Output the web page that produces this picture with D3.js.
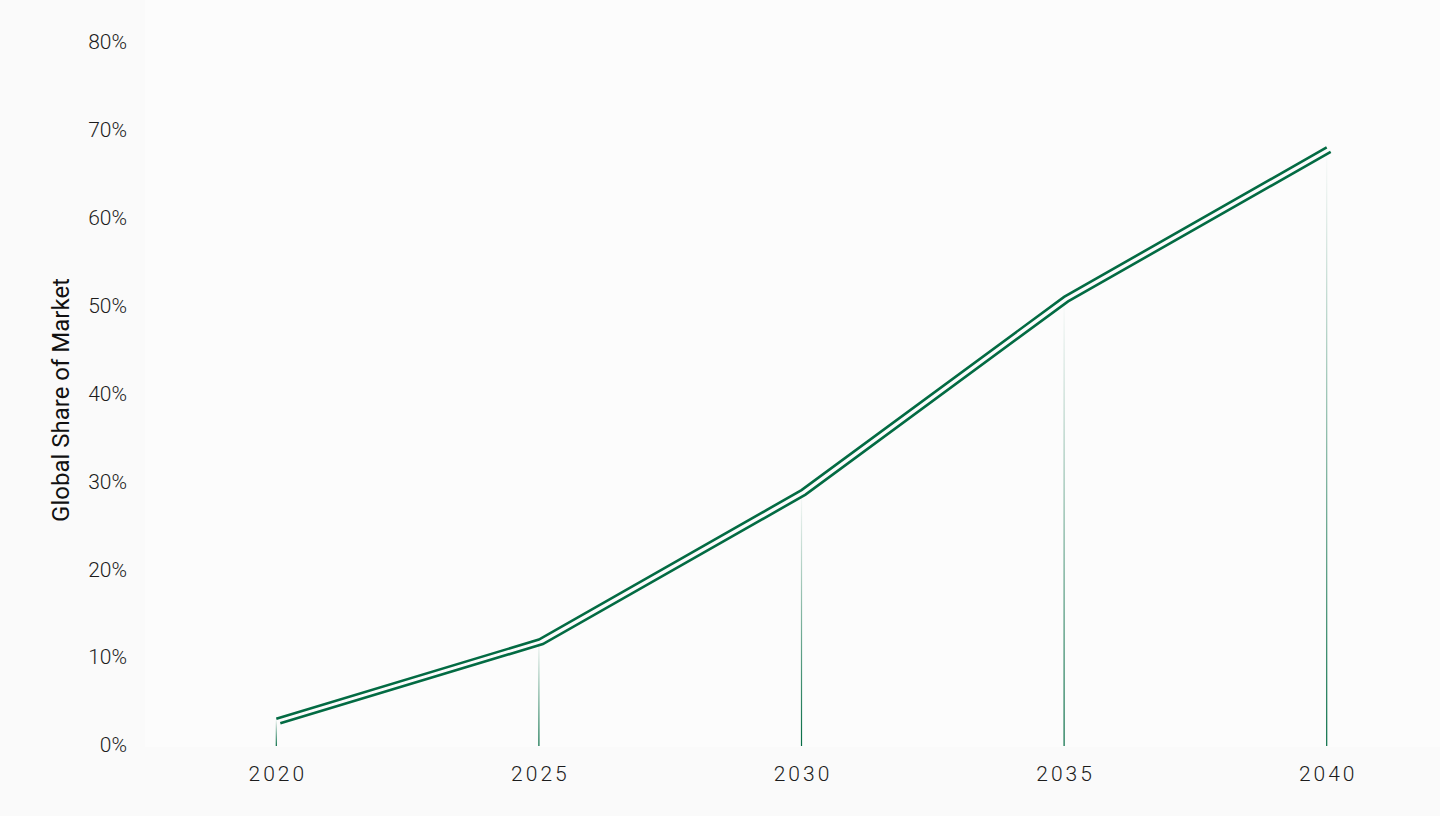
<!DOCTYPE html>
<html>
<head>
<meta charset="utf-8">
<script src="https://cdn.jsdelivr.net/npm/d3@7"></script>
<style>
  html, body { margin: 0; padding: 0; background: #fafafa; }
  svg { display: block; font-family: Roboto, "Noto Sans", sans-serif; }
</style>
</head>
<body>
<div id="chart"></div>
<script>
// data
var years = [2020, 2025, 2030, 2035, 2040];
var share = [3, 12, 29, 51, 68];           // % of global market
var yTicks = [0, 10, 20, 30, 40, 50, 60, 70, 80];
var yLabel = "Global Share of Market";

var W = 1440, H = 816;
var green = "#036b43";

var svg = d3.select("#chart").append("svg")
  .attr("width", W).attr("height", H);

var x = d3.scalePoint().domain(years).range([145, 1458]).padding(0.5);
var y = d3.scaleLinear().domain([0, 80]).range([745, 42]);

// faint plot background
svg.append("rect")
  .attr("x", 145).attr("y", 0)
  .attr("width", W - 145).attr("height", y(0) + 2)
  .attr("fill", "#fcfcfc");

// gradient for the drop lines: solid at base, fading upward
var grad = svg.append("defs").append("linearGradient")
  .attr("id", "drop").attr("gradientUnits", "objectBoundingBox")
  .attr("x1", 0).attr("y1", 1).attr("x2", 0).attr("y2", 0);
grad.append("stop").attr("offset", "0%").attr("stop-color", green).attr("stop-opacity", 1);
grad.append("stop").attr("offset", "100%").attr("stop-color", green).attr("stop-opacity", 0);

var data = years.map(function(d, i) { return { year: d, value: share[i] }; });

// drop lines (thin rects so the bbox gradient works)
svg.selectAll(".drop")
  .data(data)
  .enter().append("rect")
  .attr("class", "drop")
  .attr("x", function(d) { return x(d.year) - 0.6; })
  .attr("y", function(d) { return y(d.value); })
  .attr("width", 1.2)
  .attr("height", function(d) { return y(0) + 1 - y(d.value); })
  .attr("fill", "url(#drop)");

// double line
var line = d3.line()
  .x(function(d) { return x(d.year); })
  .y(function(d) { return y(d.value); });

[[0, 0], [4, 4.5]].forEach(function(off) {
  svg.append("path")
    .datum(data)
    .attr("transform", "translate(" + off[0] + "," + off[1] + ")")
    .attr("fill", "none")
    .attr("stroke", green)
    .attr("stroke-width", 2.6)
    .attr("d", line);
});

// y axis labels
svg.selectAll(".ytick")
  .data(yTicks)
  .enter().append("text")
  .attr("class", "ytick")
  .attr("x", 127)
  .attr("y", function(d) { return y(d); })
  .attr("dy", "0.35em")
  .attr("text-anchor", "end")
  .attr("fill", "#1c1c1c")
  .style("font-size", "21px")
  .style("font-weight", 300)
  .text(function(d) { return d + "%"; });

// x axis labels
svg.selectAll(".xtick")
  .data(years)
  .enter().append("text")
  .attr("class", "xtick")
  .attr("x", function(d) { return x(d) + 1.5; })
  .attr("y", 781)
  .attr("text-anchor", "middle")
  .attr("fill", "#1c1c1c")
  .style("font-size", "21px")
  .style("font-weight", 300)
  .style("letter-spacing", "3px")
  .text(function(d) { return d; });

svg.append("text")
  .attr("transform", "translate(69,400) rotate(-90)")
  .attr("text-anchor", "middle")
  .attr("fill", "#111")
  .style("font-size", "24px")
  .text(yLabel);
</script>
</body>
</html>
